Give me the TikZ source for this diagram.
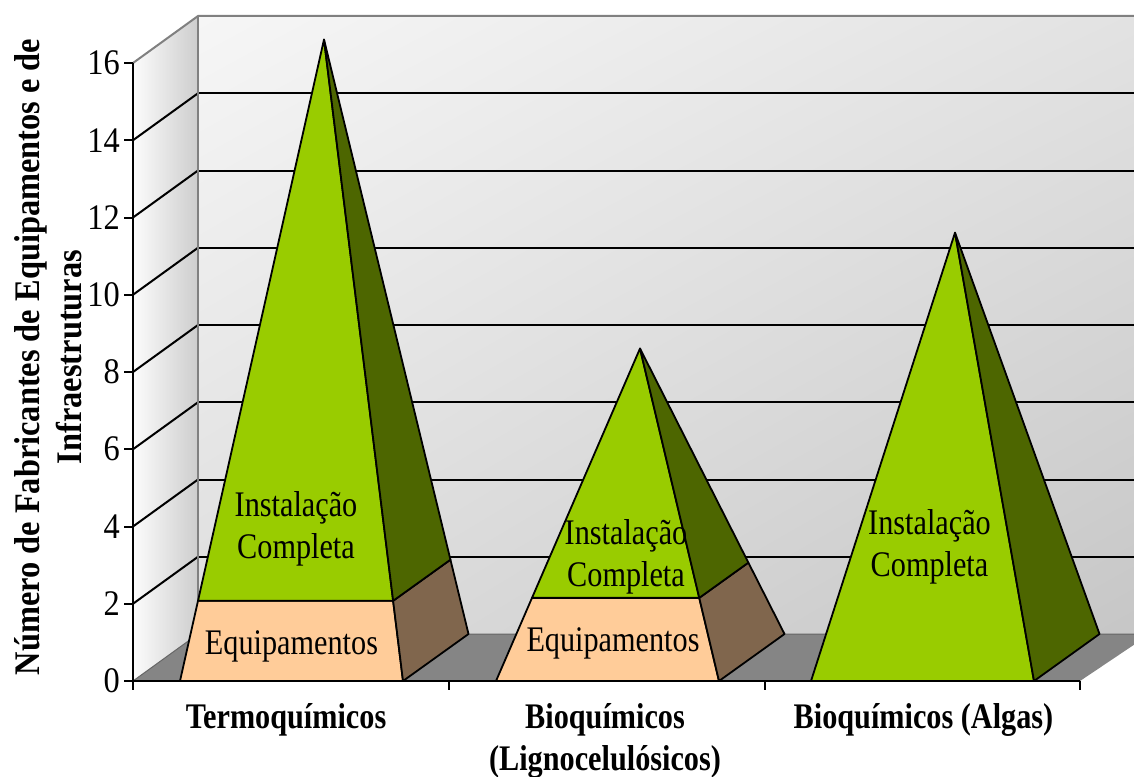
\documentclass[tikz,border=0pt]{standalone}
\usepackage{fontspec}
\setmainfont{Liberation Serif}
\usetikzlibrary{calc,shadings}
\definecolor{grn}{HTML}{99CC00}
\definecolor{grnD}{HTML}{4D6600}
\definecolor{peach}{HTML}{FFCC99}
\definecolor{brn}{HTML}{80664D}
\definecolor{floorc}{HTML}{858585}
\definecolor{framec}{HTML}{808080}
\definecolor{wUL}{RGB}{246,246,246}
\definecolor{wUR}{RGB}{226,226,226}
\definecolor{wLL}{RGB}{222,222,222}
\definecolor{wLR}{RGB}{198,198,198}
\definecolor{sL}{RGB}{252,252,252}
\definecolor{sR}{RGB}{205,205,205}
\newcommand\cnd[1]{\scalebox{0.84}[1]{#1}}
\newcommand\twol[2]{\cnd{\begin{tabular}{@{}c@{}}#1\\#2\end{tabular}}}
\newcommand\ytwol[2]{\scalebox{0.9}[1]{\begin{tabular}{@{}c@{}}#1\\#2\end{tabular}}}
\newcommand\drawpyr[4]{%
  \coordinate (#1L) at (#2-111.5,681);
  \coordinate (#1R) at (#2+111.5,681);
  \coordinate (#1B) at (#2+177,634);
  \coordinate (#1A) at (#2+32.5,657.5-38.625*#3);
}
\begin{document}
\begin{tikzpicture}[x=1pt,y=-1pt,
  txt/.style={inner sep=0pt, font=\fontsize{36}{42}\selectfont, align=center},
  btxt/.style={inner sep=0pt, font=\fontsize{36}{42}\selectfont\bfseries, align=center},
  outl/.style={draw=black, line width=1.8pt, line join=round},
  gridln/.style={draw=black, line width=2pt},
  frameln/.style={draw=framec, line width=2pt},
  axisln/.style={draw=black, line width=2pt}]
\useasboundingbox (0,0) rectangle (1134,776);
\begin{scope}
\clip (0,0) rectangle (1134,776);
% back wall
\shade[upper left=wUL, upper right=wUR, lower left=wLL, lower right=wLR]
  (198,16) rectangle (1150,634);
% side wall
\shade[left color=sL, right color=sR]
  (133,63) -- (198,16) -- (198,634) -- (133,681) -- cycle;
% floor
\fill[floorc] (133,681) -- (198,634) -- (1150,634) -- (1080,681) -- cycle;
% gridlines
\foreach \v in {2,4,...,14} {
  \draw[gridln] (198,634-38.625*\v) -- (1150,634-38.625*\v);
  \draw[gridln] (133,681-38.625*\v) -- (198,634-38.625*\v);
}
% frame edges
\draw[frameln] (133,63) -- (198,16) -- (1150,16);
\draw[frameln] (198,16) -- (198,634);
\draw[draw=framec!80!black, line width=1pt] (133,681) -- (198,634) -- (1150,634);
\end{scope}
% axes
\draw[axisln] (133,63) -- (133,690);
\foreach \v in {0,2,...,16} {
  \draw[axisln] (124,681-38.625*\v) -- (133,681-38.625*\v);
  \node[txt, anchor=east] (t\v) at (120,681-38.625*\v) {\scalebox{0.9}[1]{\v}};
}
\draw[axisln] (133,681) -- (1080,681);
\foreach \x in {449,765,1080} \draw[axisln] (\x,681) -- (\x,690);
% pyramid 1
\drawpyr{a}{291.5}{16}{}
\coordinate (aPL) at ($(aL)!0.125!(aA)$);
\coordinate (aPR) at ($(aR)!0.125!(aA)$);
\coordinate (aPB) at ($(aB)!0.125!(aA)$);
\filldraw[outl, fill=peach] (aL) -- (aR) -- (aPR) -- (aPL) -- cycle;
\filldraw[outl, fill=brn] (aR) -- (aB) -- (aPB) -- (aPR) -- cycle;
\filldraw[outl, fill=grn] (aPL) -- (aPR) -- (aA) -- cycle;
\filldraw[outl, fill=grnD] (aPR) -- (aPB) -- (aA) -- cycle;
% pyramid 2
\drawpyr{b}{607.5}{8}{}
\coordinate (bPL) at ($(bL)!0.25!(bA)$);
\coordinate (bPR) at ($(bR)!0.25!(bA)$);
\coordinate (bPB) at ($(bB)!0.25!(bA)$);
\filldraw[outl, fill=peach] (bL) -- (bR) -- (bPR) -- (bPL) -- cycle;
\filldraw[outl, fill=brn] (bR) -- (bB) -- (bPB) -- (bPR) -- cycle;
\filldraw[outl, fill=grn] (bPL) -- (bPR) -- (bA) -- cycle;
\filldraw[outl, fill=grnD] (bPR) -- (bPB) -- (bA) -- cycle;
% pyramid 3
\drawpyr{c}{922.5}{11}{}
\filldraw[outl, fill=grn] (cL) -- (cR) -- (cA) -- cycle;
\filldraw[outl, fill=grnD] (cR) -- (cB) -- (cA) -- cycle;
% data labels
\node[txt] (ia) at (296,529) {\twol{Instalação}{Completa}};
\node[txt] (ea) at (291.5,646) {\cnd{Equipamentos}};
\node[txt] (ib) at (626,557) {\twol{Instalação}{Completa}};
\node[txt] (eb) at (613,643) {\cnd{Equipamentos}};
\node[txt] (ic) at (929.5,547) {\twol{Instalação}{Completa}};
% category labels
\node[btxt] (ca) at (286,720) {\cnd{Termoquímicos}};
\node[btxt] (cb) at (605,741) {\twol{Bioquímicos}{(Lignocelulósicos)}};
\node[btxt] (cc) at (923.5,720) {\cnd{Bioquímicos (Algas)}};
% y title
\node[btxt, rotate=90] (yt) at (52,357) {\ytwol{Número de Fabricantes de Equipamentos e de}{Infraestruturas}};
\end{tikzpicture}
\end{document}
